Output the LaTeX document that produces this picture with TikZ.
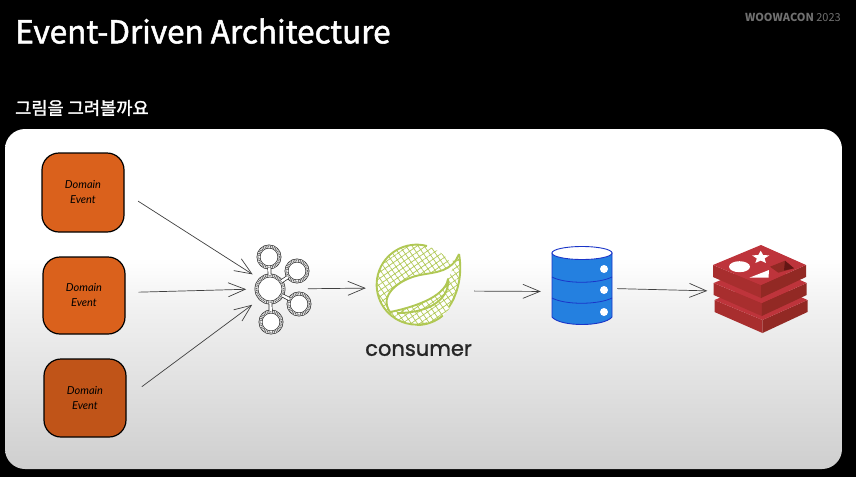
\documentclass[tikz,border=0pt]{standalone}
\usepackage{fontspec}
\usepackage{xcolor}
\usepackage{tikz}
\usetikzlibrary{shapes.geometric, arrows.meta, patterns.meta}
\setmainfont{Noto Sans}
\newfontfamily\krfont{Noto Sans CJK KR}
\newfontfamily\krmedium[FakeBold=1.6]{Noto Sans CJK KR}
\newfontfamily\handfont{Lato}
\newfontfamily\roundfont[FakeBold=1.2]{Poppins}
\definecolor{myorange}{RGB}{218,97,28}
\definecolor{myburnt}{RGB}{192,84,24}
\definecolor{mygreen}{RGB}{176,200,84}
\definecolor{myblue}{RGB}{36,128,224}
\definecolor{mynavy}{RGB}{26,53,200}
\definecolor{myred}{RGB}{190,52,59}
\definecolor{myrust}{RGB}{168,46,46}
\definecolor{mymaroon}{RGB}{146,41,36}
\definecolor{mywine}{RGB}{100,22,20}
\definecolor{mygrey}{RGB}{112,112,112}
\pgfdeclareverticalshading{boardfade}{100bp}{color(0bp)=(black!19); color(25bp)=(black!19);
  color(48bp)=(black!6); color(56bp)=(white); color(100bp)=(white)}
\tikzset{
  eventblock/.style={rectangle, draw=black, fill=myorange,
    minimum width=82pt, minimum height=79pt, align=center,
    font=\handfont\itshape\fontsize{11}{15}\selectfont, rounded corners=17pt, line width=1.2pt},
  kafkanode/.style={circle, draw=black!85, fill=white, inner sep=0pt,
    line width=0.7pt, double=white, double distance=2.4pt,
    postaction={draw=black!60, line width=1.8pt, dash pattern=on 0.9pt off 0.9pt}},
  kafkalink/.style={draw=black!85, line width=0.7pt, double=white, double distance=2.4pt},
  arrow/.style={-{Straight Barb[length=17pt,width=14pt]}, line width=0.7pt, color=black!75},
  hatched/.style={pattern={Hatch[angle=35,distance=5pt,line width=0.7pt]}, pattern color=mygreen},
  leafline/.style={draw=mygreen, line width=1.9pt, line join=round},
  dbline/.style={draw=mynavy, line width=0.8pt},
  dbdot/.style={circle, fill=white, minimum size=8pt, inner sep=0pt}
}
\begin{document}
\begin{tikzpicture}[x=1pt, y=-1pt]
  \useasboundingbox (0,0) rectangle (856,477);
  \fill[black] (0,0) rectangle (856,477);
  \node[minimum width=837pt, minimum height=340pt, rounded corners=20pt, inner sep=0pt,
    shading=boardfade] (board) at (423.5,299) {};

  \node[anchor=west, text=white, inner sep=0pt, font=\krmedium\fontsize{31.5}{31.5}\selectfont] (title) at (15,31) {Event-Driven Architecture};
  \node[anchor=west, text=white, inner sep=0pt, font=\krmedium\fontsize{17.6}{17.6}\selectfont] (subtitle) at (15,108) {그림을 그려볼까요};
  \node[anchor=east, text=mygrey, inner sep=0pt, font=\krfont\fontsize{11}{11}\selectfont] (brand) at (841,17) {\textbf{WOOWACON} 2023};

  \node[eventblock] (d1) at (83,192.5) {Domain\\Event};
  \node[eventblock, minimum height=77pt] (d2) at (84,295.5) {Domain\\Event};
  \node[eventblock, fill=myburnt, minimum height=78pt] (d3) at (85,398) {Domain\\Event};

  \node[kafkanode, minimum size=27pt] (kcore) at (270,289) {};
  \node[kafkanode, minimum size=21pt] (ktop) at (269,257) {};
  \node[kafkanode, minimum size=21pt] (kup) at (297,271) {};
  \node[kafkanode, minimum size=21pt] (klow) at (299,304) {};
  \node[kafkanode, minimum size=21pt] (kbot) at (271,322) {};
  \draw[kafkalink] (kcore) -- (ktop);
  \draw[kafkalink] (kcore) -- (kup);
  \draw[kafkalink] (kcore) -- (klow);
  \draw[kafkalink] (kcore) -- (kbot);

  \fill[white] (459,254) .. controls (462,270) and (460,290) .. (449,307) -- (417,300) -- cycle;
  \fill[hatched] (459,254) .. controls (462,270) and (460,290) .. (449,307) -- (417,300) -- cycle;
  \node[circle, fill=white, minimum size=80pt, inner sep=0pt] (spring) at (417,285) {};
  \fill[hatched] (417,285) circle[radius=40];
  \fill[white] (459,254) .. controls (452,272) and (436,272) .. (420,275)
    .. controls (400,279) and (378,295) .. (390,312)
    .. controls (410,308) and (445,298) .. (448,279) -- cycle;
  \draw[leafline] (spring.center) ++(10,-39) arc[start angle=-75, end angle=-285, radius=40];
  \draw[leafline] (417,325) arc[start angle=90, end angle=50, radius=40];
  \draw[leafline] (459,254) .. controls (452,272) and (436,272) .. (420,275)
    .. controls (400,279) and (378,295) .. (390,312)
    .. controls (410,308) and (445,298) .. (448,279)
    .. controls (450,295) and (435,313) .. (397,313);
  \draw[leafline] (459,254) .. controls (462,270) and (460,290) .. (449,307);
  \node[font=\roundfont\fontsize{21}{21}\selectfont, text=black!85, inner sep=0pt] (consumer) at (418.5,350) {consumer};

  \node[minimum width=60pt, minimum height=77pt, inner sep=0pt] (db) at (582,285.5) {};
  \filldraw[fill=myblue, draw=mynavy, line width=0.9pt] (552,253) -- (552,317)
    .. controls (560,327) and (604,327) .. (612,317) -- (612,253) -- cycle;
  \filldraw[fill=white, draw=mynavy, line width=0.9pt] (582,253) ellipse[x radius=30, y radius=6.5];
  \draw[dbline] (552,277) .. controls (565,284) and (598,284) .. (612,277);
  \draw[dbline] (552,298) .. controls (565,305) and (598,305) .. (612,298);
  \node[dbdot] (dot1) at (604,269) {};
  \node[dbdot] (dot2) at (604,290) {};
  \node[dbdot] (dot3) at (604,312) {};

  \node[minimum width=93pt, minimum height=88pt, inner sep=0pt] (redis) at (760,289) {};
  \foreach \dx/\dy in {1.5/35, 0.7/18, 0/0} {
    \begin{scope}[shift={(\dx,\dy)}]
      \fill[myrust] (713,265) -- (761,285) -- (761,298) -- (713,277) -- cycle;
      \fill[mymaroon] (761,285) -- (806,265) -- (806,277) -- (761,298) -- cycle;
      \fill[myred] (761,245) -- (806,265) -- (761,285) -- (713,265) -- cycle;
    \end{scope}
  }
  \fill[white] (739.5,266.7) ellipse[x radius=10.5, y radius=5.5];
  \fill[white] (749.3,277.7) -- (769,270) -- (768.5,277.7) -- cycle;
  \node[star, star points=5, star point ratio=2.2, fill=white, inner sep=0pt, minimum size=18pt,
    yscale=0.75, transform shape] (rstar) at (760.7,257.5) {};
  \fill[mymaroon] (770,266.7) -- (785,260.7) -- (794,268.3) -- (778.3,272.7) -- cycle;
  \fill[mywine] (785,260.7) -- (794,268.3) -- (784,270.5) -- cycle;

  \draw[arrow, shorten <=16pt, shorten >=9pt] (d1.east) -- (kcore.north west);
  \draw[arrow, shorten <=13pt, shorten >=10pt] ([yshift=3pt]d2.east) -- (kcore.west);
  \draw[arrow, shorten <=19pt, shorten >=10pt] (d3.east) -- (kcore.south west);
  \draw[arrow, shorten <=24pt, shorten >=11pt] (kcore.east) -- ([yshift=-3pt]spring.west);
  \draw[arrow, shorten <=17pt, shorten >=11pt] ([yshift=-6pt]spring.east) -- ([yshift=-6pt]db.west);
  \draw[arrow, shorten <=5pt, shorten >=6pt] ([yshift=-3pt]db.east) -- ([yshift=-2pt]redis.west);
\end{tikzpicture}
\end{document}
